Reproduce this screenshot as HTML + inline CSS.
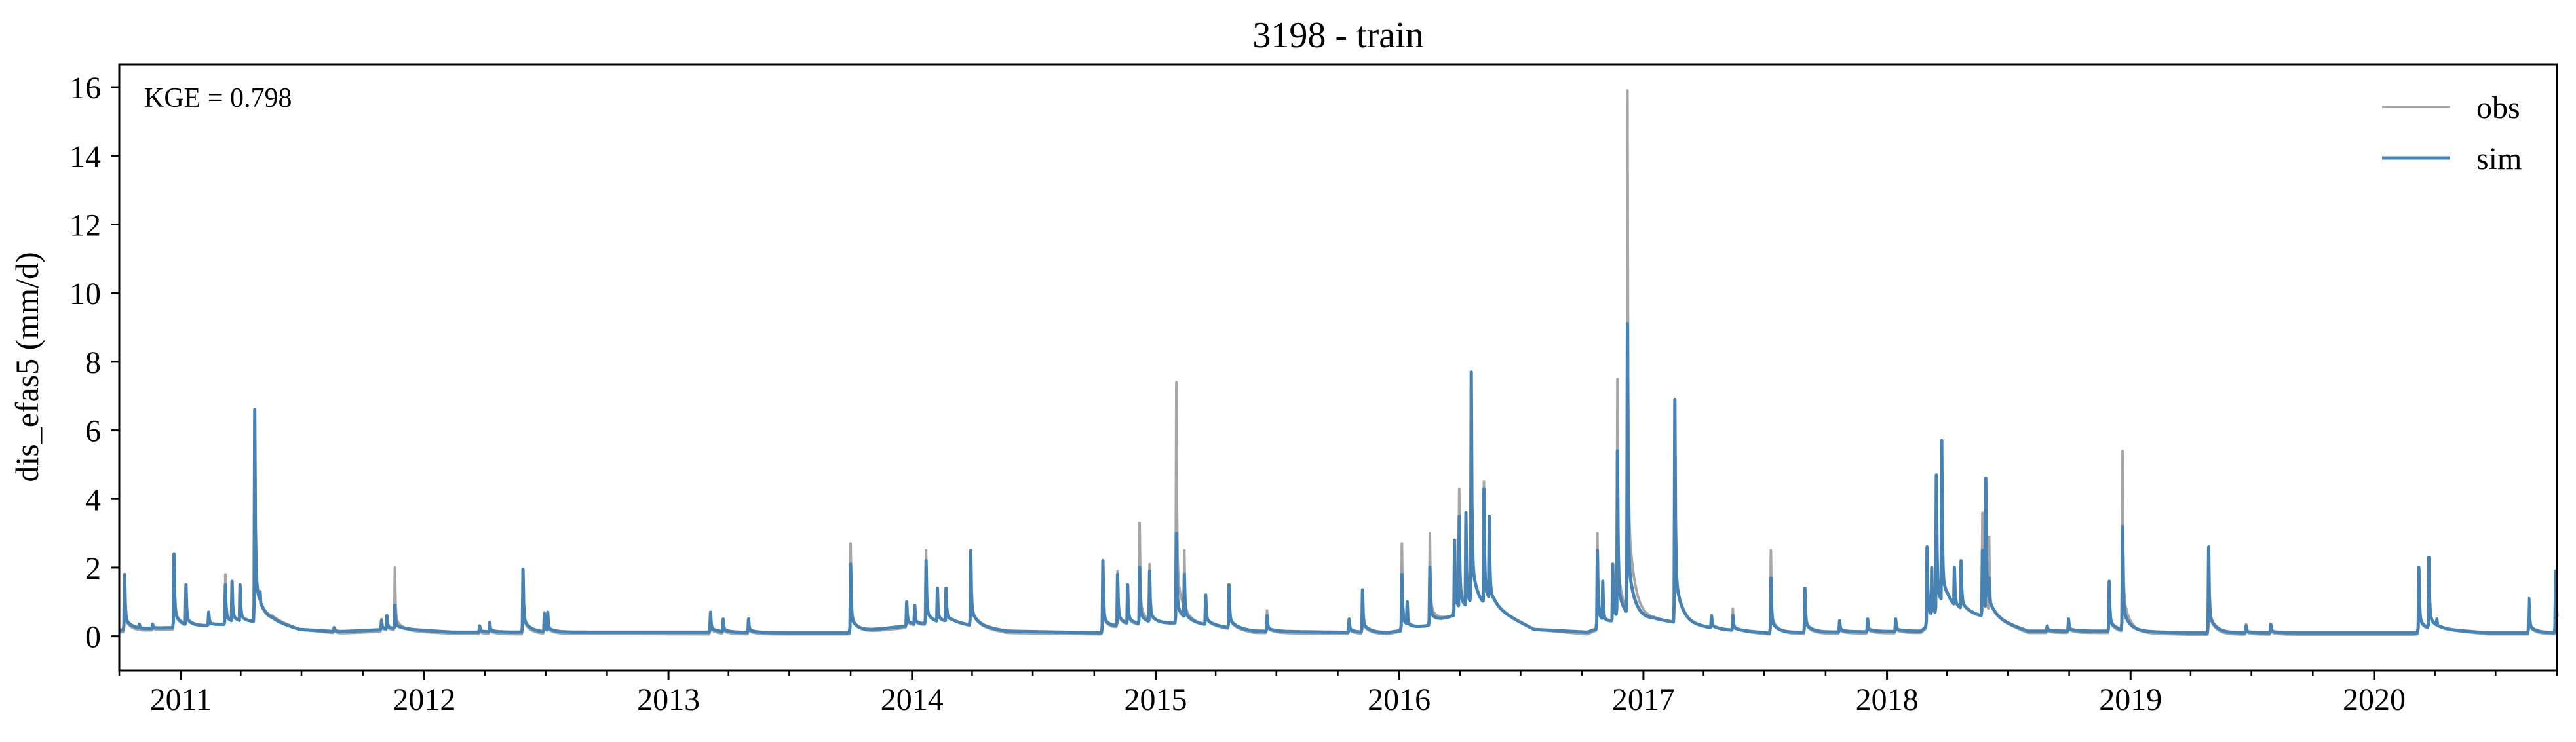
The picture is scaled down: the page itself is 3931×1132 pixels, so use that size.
<!DOCTYPE html>
<html><head><meta charset="utf-8"><style>
html,body{margin:0;padding:0;background:#fff;}
svg{display:block;font-family:"Liberation Serif",serif;}
</style></head><body>
<svg id="chart" width="3931" height="1132" viewBox="0 0 3931 1132" xmlns="http://www.w3.org/2000/svg">
<rect width="3931" height="1132" fill="#fff"/>
<text x="2042" y="72" font-size="56" text-anchor="middle">3198 - train</text>
<text transform="translate(58,560) rotate(-90)" font-size="50" text-anchor="middle">dis_efas5 (mm/d)</text>
<g id="plot"></g>
<g id="axes"></g>
<text x="220" y="163" font-size="42">KGE = 0.798</text>
<g>
<line x1="3635" y1="163" x2="3739" y2="163" stroke="#a6a6a6" stroke-width="4"/>
<text x="3779" y="180" font-size="48">obs</text>
<line x1="3635" y1="241" x2="3739" y2="241" stroke="#4682b4" stroke-width="5"/>
<text x="3779" y="258" font-size="48">sim</text>
</g>
</svg>
<script>
// All days counted from 2010-10-01
// Baseflow knots
const baseDays = [0,80,130,200,230,270,330,400,430,500,600,700,880,1000,1090,1180,1250,1330,1470,1500,1600,1700,1900,1960,2000,2060,2120,2200,2240,2300,2400,2470,2700,2740,2810,2860,3000,3100,3440,3480,3550,3653];
const baseObs = [0.12,0.2,0.3,0.4,0.5,0.2,0.08,0.15,0.15,0.08,0.06,0.08,0.06,0.06,0.06,0.25,0.4,0.1,0.06,0.25,0.4,0.1,0.06,0.3,0.6,0.8,0.2,0.06,0.4,0.5,0.2,0.06,0.1,0.8,0.5,0.1,0.1,0.05,0.05,0.2,0.06,0.06];
const baseSim = [0.18,0.25,0.3,0.4,0.45,0.2,0.13,0.2,0.2,0.12,0.12,0.12,0.12,0.1,0.1,0.3,0.4,0.15,0.1,0.3,0.4,0.15,0.1,0.3,0.6,0.8,0.2,0.12,0.4,0.5,0.2,0.1,0.15,0.8,0.5,0.15,0.15,0.1,0.1,0.2,0.1,0.1];
// Flood events: day, observed peak, simulated peak
const eventDays = [8,30,50,82,100,134,159,169,181,203,211,322,393,401,413,540,555,605,637,642,886,905,943,1096,1180,1192,1209,1226,1239,1276,1474,1496,1511,1529,1544,1584,1596,1628,1663,1720,1843,1863,1922,1930,1964,2001,2008,2018,2026,2045,2053,2215,2223,2238,2245,2260,2331,2386,2418,2475,2526,2578,2620,2662,2709,2716,2723,2731,2750,2760,2792,2797,2802,2889,2921,2982,3002,3131,3187,3224,3446,3461,3473,3611,3651];
const eventObs = [1.8,0.3,0.35,2.4,1.5,0.7,1.8,1.6,1.5,6.6,1.3,0.25,0.5,0.6,2.0,0.25,0.4,1.95,0.7,0.7,0.7,0.5,0.5,2.7,1.0,0.9,2.5,1.4,1.4,2.5,2.2,1.9,1.5,3.3,2.1,7.4,2.5,1.2,1.5,0.75,0.5,1.35,2.7,1.0,3.0,2.8,4.3,3.6,7.5,4.5,3.5,3.0,1.6,2.1,7.5,15.9,6.9,0.6,0.8,2.5,1.4,0.45,0.5,0.5,2.6,2.0,4.7,5.7,2.0,2.2,3.6,2.0,2.9,0.3,0.5,1.6,5.4,2.6,0.35,0.35,2.0,2.3,0.5,1.1,1.9];
const eventSim = [1.8,0.35,0.35,2.4,1.5,0.7,1.5,1.6,1.5,6.6,1.3,0.25,0.45,0.6,0.9,0.3,0.4,1.95,0.65,0.7,0.7,0.5,0.5,2.1,1.0,0.9,2.2,1.4,1.4,2.5,2.2,1.8,1.5,2.0,1.9,3.0,1.8,1.2,1.5,0.6,0.5,1.35,1.8,1.0,2.0,2.8,3.5,3.6,7.7,4.3,3.5,2.5,1.6,2.1,5.4,9.1,6.9,0.6,0.6,1.7,1.4,0.45,0.5,0.5,2.6,2.0,4.7,5.7,2.0,2.2,2.5,4.6,1.7,0.3,0.5,1.6,3.2,2.6,0.3,0.35,2.0,2.3,0.5,1.1,1.9];
const yTicks = [0,2,4,6,8,10,12,14,16];
const yearLabels = ["2011","2012","2013","2014","2015","2016","2017","2018","2019","2020"];

const NS = "http://www.w3.org/2000/svg";
const X0 = 182, X1 = 3902, Y0 = 98, Y1 = 1023;
const DMIN = 0, DMAX = 3653, VMIN = -1.0, VMAX = 16.67;
function xs(d){ return X0 + (d - DMIN) / (DMAX - DMIN) * (X1 - X0); }
function ys(v){ return Y1 - (v - VMIN) / (VMAX - VMIN) * (Y1 - Y0); }
function dayOf(y, m){ return Math.round((Date.UTC(y, m, 1) - Date.UTC(2010, 9, 1)) / 86400000); }
function baseAt(d, arr){
  for (let i = 1; i < baseDays.length; i++) {
    if (d <= baseDays[i]) {
      const t = (d - baseDays[i-1]) / (baseDays[i] - baseDays[i-1]);
      return arr[i-1] + t * (arr[i] - arr[i-1]);
    }
  }
  return arr[arr.length - 1];
}
function kernel(t){
  if (t < -1) return 0;
  if (t < 0) return 0.08;
  return 0.78 * Math.exp(-t / 0.9) + 0.22 * Math.exp(-t / 10);
}
function seriesPoints(baseArr, peakArr){
  const pts = [];
  for (let d = DMIN; d <= DMAX; d++) {
    const b = baseAt(d, baseArr);
    let v = b;
    for (let e = 0; e < eventDays.length; e++) {
      const t = d - eventDays[e];
      if (t < -1 || t > 80) continue;
      const pb = baseAt(eventDays[e], baseArr);
      const cand = b + Math.max(0, peakArr[e] - pb) * kernel(t);
      if (cand > v) v = cand;
    }
    pts.push([d, v]);
  }
  return pts;
}

const plot = document.getElementById('plot');
const axes = document.getElementById('axes');

function series(baseArr, peakArr, color, w, name){
  const pts = seriesPoints(baseArr, peakArr);
  let d = '';
  pts.forEach((p, i) => { d += (i ? 'L' : 'M') + xs(p[0]).toFixed(1) + ' ' + ys(p[1]).toFixed(1); });
  const p = document.createElementNS(NS, 'path');
  p.setAttribute('d', d);
  p.setAttribute('fill', 'none');
  p.setAttribute('stroke', color);
  p.setAttribute('stroke-width', w);
  p.setAttribute('stroke-linejoin', 'round');
  
  
  plot.appendChild(p);
}
series(baseObs, eventObs, '#a6a6a6', 4, 'obs-line');
series(baseSim, eventSim, '#4682b4', 5, 'sim-line');

function line(x1, y1, x2, y2, w, name){
  const l = document.createElementNS(NS, 'line');
  l.setAttribute('x1', x1); l.setAttribute('y1', y1); l.setAttribute('x2', x2); l.setAttribute('y2', y2);
  l.setAttribute('stroke', '#000'); l.setAttribute('stroke-width', w);
  
  
  axes.appendChild(l);
}
function label(x, y, txt, anchor, name){
  const t = document.createElementNS(NS, 'text');
  t.setAttribute('x', x); t.setAttribute('y', y);
  t.setAttribute('font-size', '48'); t.setAttribute('text-anchor', anchor);
  t.textContent = txt;
  
  
  axes.appendChild(t);
}
const fr = document.createElementNS(NS, 'rect');
fr.setAttribute('x', X0); fr.setAttribute('y', Y0); fr.setAttribute('width', X1 - X0); fr.setAttribute('height', Y1 - Y0);
fr.setAttribute('fill', 'none'); fr.setAttribute('stroke', '#000'); fr.setAttribute('stroke-width', 3);


axes.appendChild(fr);

yTicks.forEach(v => {
  const y = ys(v);
  line(X0 - 12, y, X0, y, 3, 'y-tick');
  label(X0 - 28, y + 17, String(v), 'end', 'y-tick-label');
});
yearLabels.forEach(yl => {
  const yr = parseInt(yl, 10);
  const x = xs(dayOf(yr, 0));
  line(x, Y1, x, Y1 + 14, 3, 'x-major-tick');
  label(x, Y1 + 60, yl, 'middle', 'x-tick-label');
});
for (let yr = 2010; yr <= 2020; yr++) {
  [3, 6, 9].forEach(m => {
    const d = dayOf(yr, m);
    if (d < DMIN || d > DMAX) return;
    line(xs(d), Y1, xs(d), Y1 + 8, 2.5, 'x-minor-tick');
  });
}
</script>
</body></html>
